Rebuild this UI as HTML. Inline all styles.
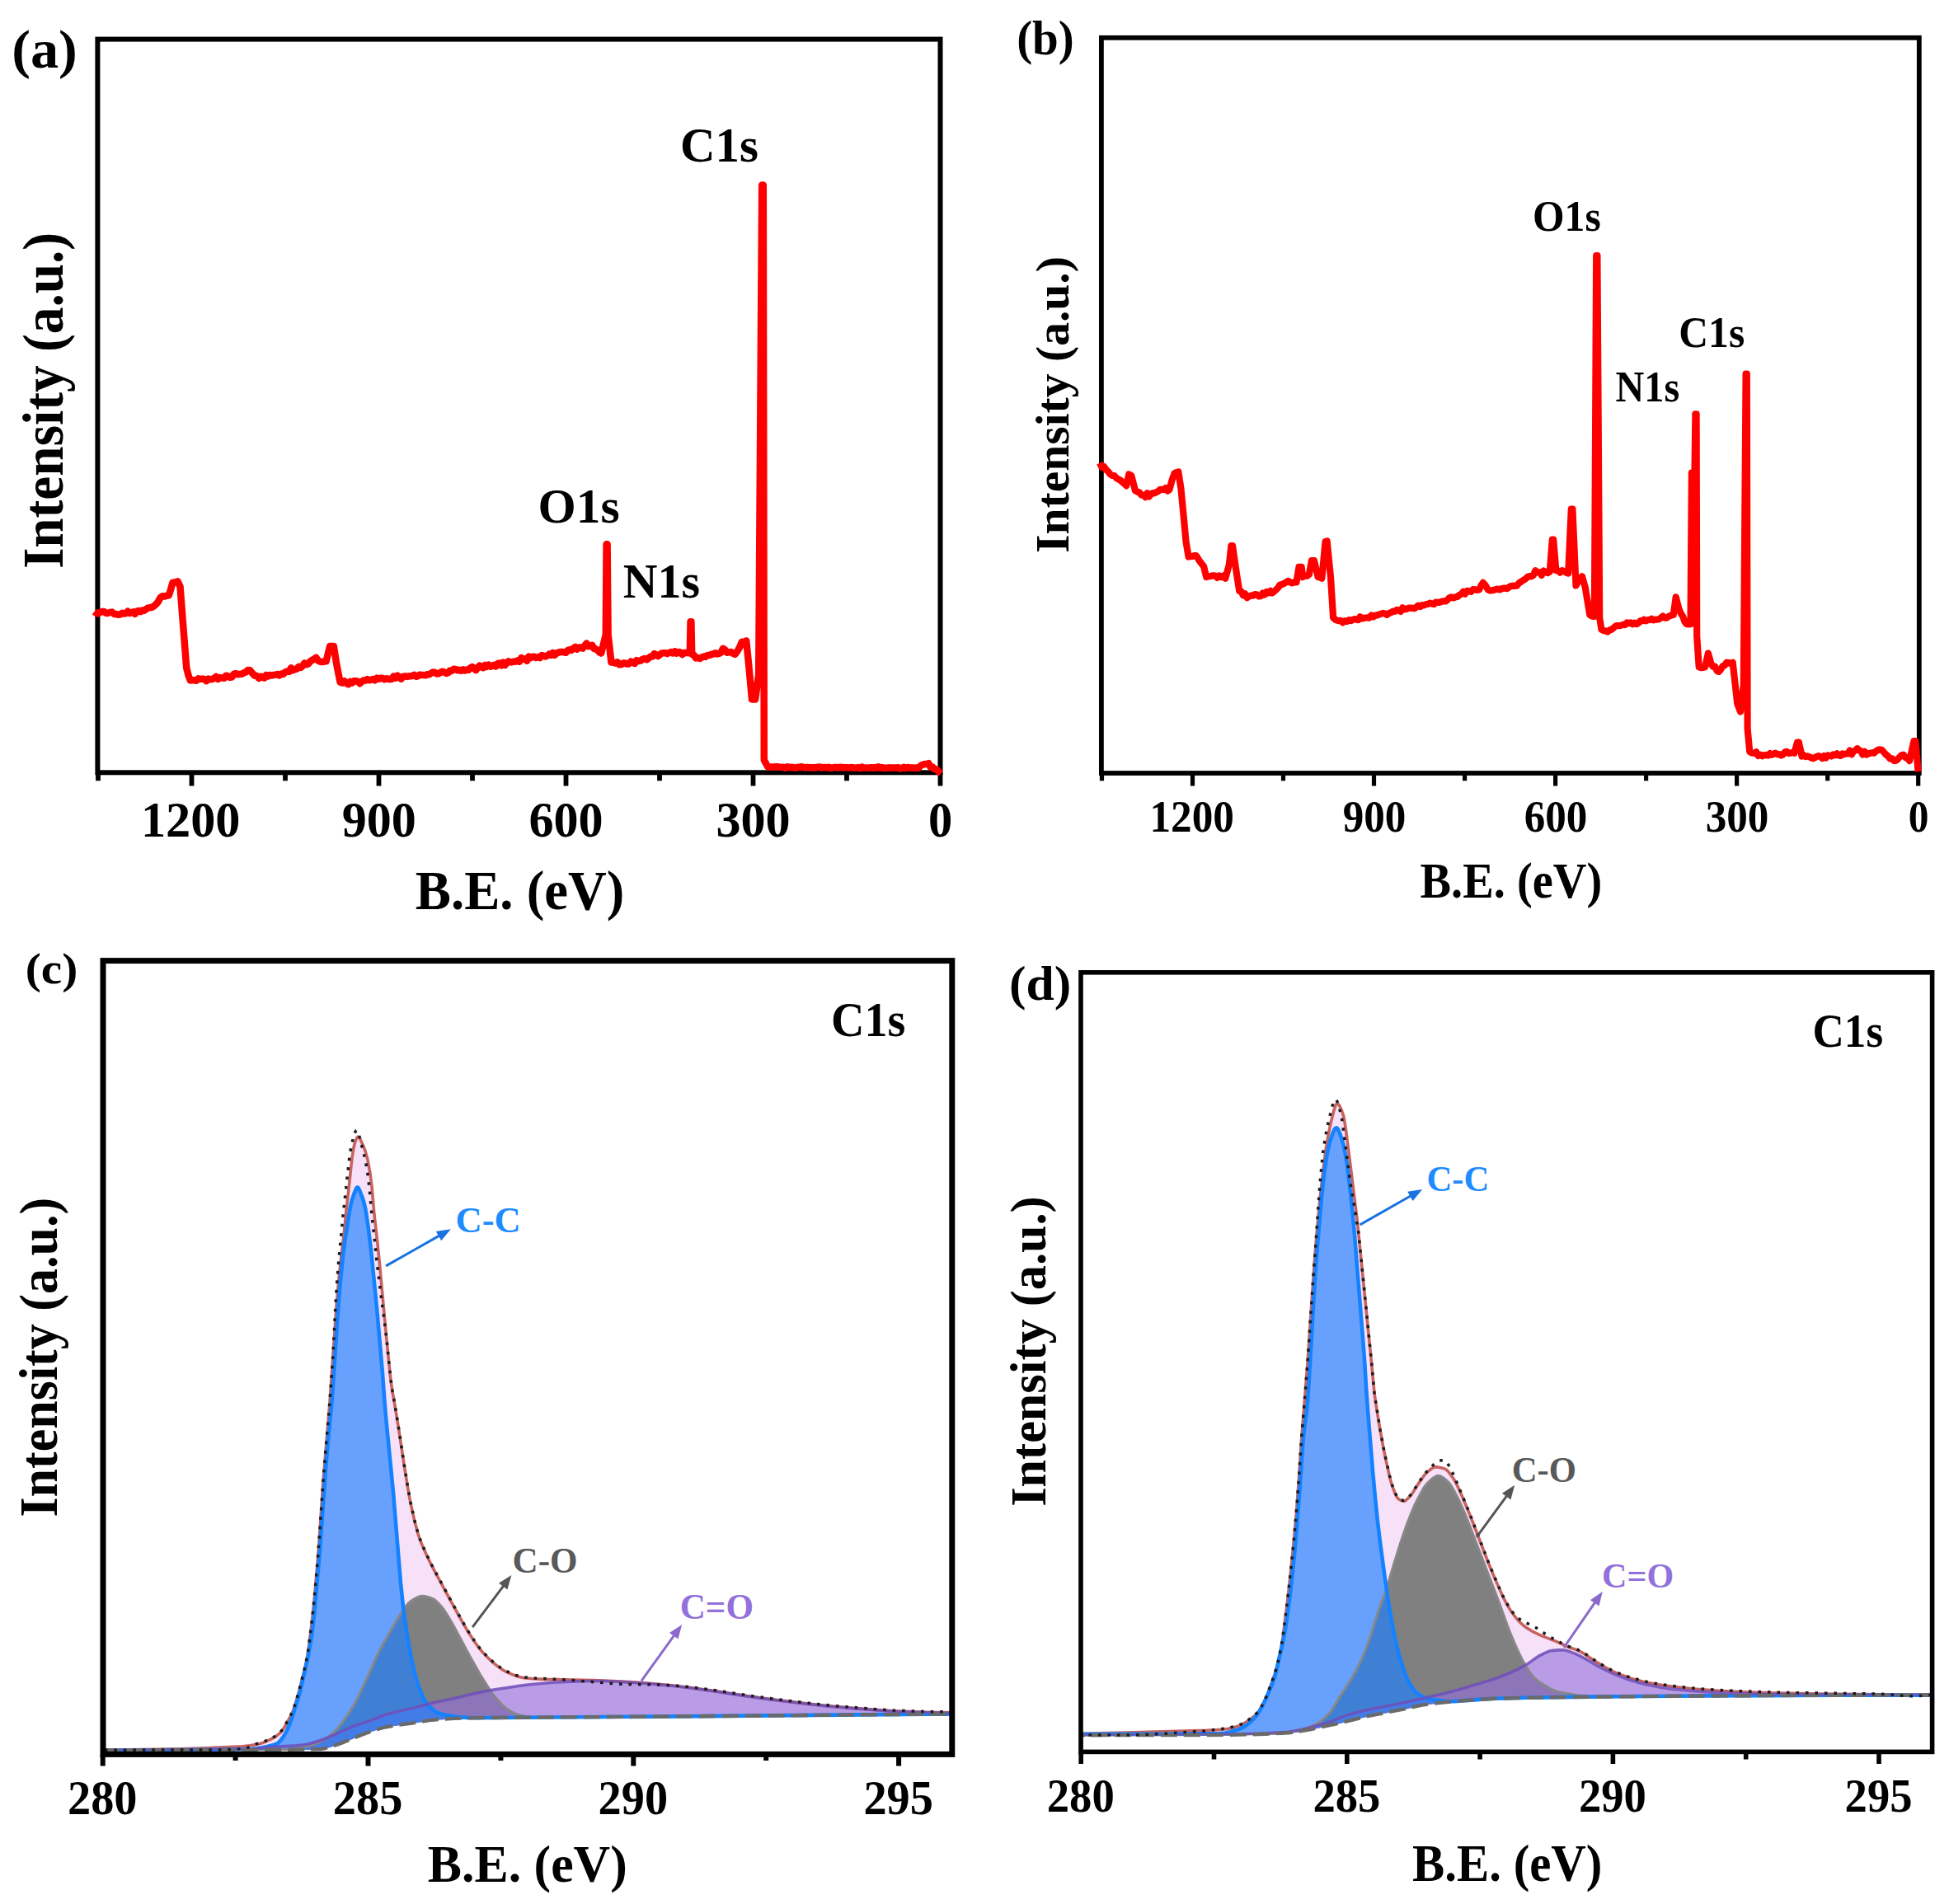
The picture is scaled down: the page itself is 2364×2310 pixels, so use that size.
<!DOCTYPE html>
<html lang="en"><head><meta charset="utf-8"><title>XPS spectra</title>
<style>html,body{margin:0;padding:0;background:#fff}svg{display:block}text{white-space:pre}</style>
</head><body>
<svg width="2364" height="2310" viewBox="0 0 2364 2310">
<rect width="2364" height="2310" fill="#fff"/>
<rect x="118.4" y="47.6" width="1022.1" height="889.6999999999999" fill="none" stroke="#000" stroke-width="6"/>
<path d="M232.5,937.3v16.1M459.5,937.3v16.1M686.5,937.3v16.1M913.5,937.3v16.1M1140.5,937.3v16.1" stroke="#000" stroke-width="5.8" fill="none"/>
<path d="M119.0,937.3v9.9M346.0,937.3v9.9M573.0,937.3v9.9M800.0,937.3v9.9M1027.0,937.3v9.9" stroke="#000" stroke-width="5.8" fill="none"/>
<text transform="translate(170.93,1015.25) scale(0.9842,1)" font-size="61.26" fill="#000" font-family="Liberation Serif, serif" font-weight="bold">1200</text>
<text transform="translate(414.71,1015.25) scale(0.9815,1)" font-size="61.26" fill="#000" font-family="Liberation Serif, serif" font-weight="bold">900</text>
<text transform="translate(641.48,1015.25) scale(0.9814,1)" font-size="61.26" fill="#000" font-family="Liberation Serif, serif" font-weight="bold">600</text>
<text transform="translate(868.41,1015.25) scale(0.9814,1)" font-size="61.26" fill="#000" font-family="Liberation Serif, serif" font-weight="bold">300</text>
<text transform="translate(1125.88,1015.25) scale(0.9545,1)" font-size="61.26" fill="#000" font-family="Liberation Serif, serif" font-weight="bold">0</text>
<text transform="translate(503.77,1103.05) scale(0.9610,1)" font-size="67.40" fill="#000" font-family="Liberation Serif, serif" font-weight="bold">B.E. (eV)</text>
<text transform="translate(76.05,690.12) rotate(-90) scale(0.9435,1)" font-size="69.24" fill="#000" font-family="Liberation Serif, serif" font-weight="bold">Intensity (a.u.)</text>
<text transform="translate(14.23,82.07) scale(1.0349,1)" font-size="66.01" fill="#000" font-family="Liberation Serif, serif" font-weight="bold">(a)</text>
<text transform="translate(825.06,195.85) scale(1.0090,1)" font-size="58.34" fill="#000" font-family="Liberation Serif, serif" font-weight="bold">C1s</text>
<text transform="translate(652.53,633.85) scale(1.0209,1)" font-size="58.19" fill="#000" font-family="Liberation Serif, serif" font-weight="bold">O1s</text>
<text transform="translate(755.85,725.45) scale(0.9709,1)" font-size="59.47" fill="#000" font-family="Liberation Serif, serif" font-weight="bold">N1s</text>
<path d="M114.5,742.0 L116.8,743.9 L119.2,744.4 L121.5,742.9 L123.8,742.1 L126.1,742.0 L128.5,743.7 L130.8,743.9 L133.4,742.9 L135.9,742.6 L138.5,744.9 L141.1,745.1 L143.6,745.8 L146.2,745.4 L148.4,743.8 L150.6,744.5 L152.8,744.0 L155.0,741.8 L157.2,743.9 L159.4,743.2 L161.6,742.4 L163.8,744.9 L166.0,741.8 L168.2,740.9 L170.4,742.2 L172.6,740.4 L174.8,740.9 L177.0,739.3 L179.5,737.6 L181.9,737.1 L184.4,736.9 L186.8,735.2 L189.3,733.1 L191.9,730.0 L194.4,725.2 L197.0,723.3 L199.6,723.6 L202.1,722.8 L204.7,722.4 L207.0,715.6 L209.3,707.0 L212.4,706.5 L215.5,705.4 L218.5,711.6 L221.6,751.6 L223.9,780.9 L226.2,810.1 L228.5,819.2 L230.8,825.5 L233.2,825.2 L235.7,825.3 L238.1,825.7 L240.5,823.3 L242.9,823.9 L245.4,823.6 L247.8,824.0 L250.2,826.3 L252.6,823.5 L255.0,824.3 L257.4,824.1 L259.7,822.8 L262.1,821.0 L264.5,824.0 L266.9,822.1 L269.3,822.4 L271.7,822.8 L274.1,819.7 L276.5,820.3 L278.9,821.9 L281.3,821.6 L283.7,817.7 L286.1,817.2 L288.5,818.3 L290.9,817.8 L293.4,817.8 L295.8,816.2 L298.3,815.4 L300.7,812.9 L303.2,813.2 L305.9,816.4 L308.6,819.5 L311.3,820.0 L314.0,823.0 L316.2,820.7 L318.4,821.1 L320.7,822.5 L322.9,818.9 L325.1,820.5 L327.3,818.9 L329.6,819.5 L331.8,818.9 L334.0,818.7 L336.4,818.1 L338.8,819.4 L341.2,817.4 L343.6,817.9 L345.9,815.5 L348.3,814.4 L350.7,814.9 L353.1,810.3 L355.5,813.2 L357.8,812.2 L360.1,811.5 L362.4,808.8 L364.8,809.9 L367.1,807.7 L369.4,804.4 L371.7,806.2 L374.0,805.5 L376.3,802.4 L378.6,801.0 L381.0,799.5 L383.3,797.8 L386.4,802.0 L389.4,803.0 L392.5,802.8 L395.6,802.4 L397.9,793.1 L400.2,783.9 L402.5,783.9 L404.8,783.9 L407.9,803.9 L410.2,815.7 L412.5,827.5 L415.1,828.5 L417.6,826.2 L420.2,829.0 L422.5,830.2 L424.8,827.0 L427.1,828.6 L429.4,826.3 L431.7,826.2 L434.0,826.6 L436.4,829.2 L438.7,827.3 L441.0,825.4 L443.3,825.5 L445.6,824.1 L447.9,825.2 L450.2,824.9 L452.4,824.0 L454.7,825.4 L457.0,822.6 L459.3,823.7 L461.5,822.8 L463.8,822.7 L466.1,824.3 L468.4,823.3 L470.6,823.7 L472.9,824.2 L475.2,823.9 L477.5,820.5 L479.7,822.7 L482.0,819.6 L484.3,821.5 L486.6,823.8 L488.8,820.9 L491.1,820.4 L493.4,820.9 L495.7,820.5 L497.9,820.3 L500.2,820.0 L502.5,818.8 L504.8,820.8 L507.0,820.2 L509.3,818.6 L511.6,818.9 L513.9,819.1 L516.2,819.3 L518.5,818.2 L520.7,818.3 L523.0,816.8 L525.3,815.5 L527.6,815.9 L529.9,817.5 L532.1,817.2 L534.4,815.8 L536.7,814.7 L539.0,815.5 L541.3,816.9 L543.5,816.2 L545.8,813.4 L548.1,813.9 L550.4,811.8 L552.7,811.9 L555.0,813.3 L557.2,812.8 L559.5,813.7 L561.8,812.2 L564.0,813.4 L566.2,812.6 L568.4,812.8 L570.6,810.2 L572.8,809.1 L575.0,810.8 L577.2,813.2 L579.4,809.9 L581.6,807.7 L583.8,809.1 L586.0,810.2 L588.2,806.8 L590.4,808.8 L592.6,806.7 L594.8,808.7 L597.0,807.8 L599.2,806.8 L601.4,808.6 L603.6,805.2 L605.8,804.6 L608.0,807.4 L610.2,803.6 L612.4,807.1 L614.6,804.0 L616.8,802.4 L619.0,803.4 L621.2,803.2 L623.4,802.7 L625.6,802.5 L627.9,801.5 L630.1,802.7 L632.4,798.0 L634.6,799.7 L636.9,799.6 L639.1,801.8 L641.4,796.5 L643.6,798.2 L645.9,796.7 L648.1,796.8 L650.3,798.0 L652.6,797.3 L654.8,798.1 L657.1,795.1 L659.3,795.7 L661.6,796.4 L663.8,795.6 L666.1,793.6 L668.3,794.9 L670.6,791.9 L672.8,794.9 L675.1,792.4 L677.3,791.7 L679.6,791.1 L681.8,791.0 L684.1,791.2 L686.4,791.8 L688.7,789.0 L691.0,788.2 L693.2,788.9 L695.5,786.5 L697.8,785.0 L700.0,787.7 L702.3,785.6 L704.6,785.6 L706.9,786.6 L709.1,783.4 L711.4,780.6 L713.7,784.2 L715.9,783.5 L718.2,782.9 L720.4,786.8 L722.6,787.4 L724.8,789.0 L727.0,791.2 L729.2,792.4 L732.0,781.2 L734.8,770.0 L735.6,660.2 L736.6,660.2 L737.6,770.0 L741.4,803.4 L743.9,803.5 L746.3,804.6 L748.8,803.3 L751.2,806.2 L753.7,806.1 L756.0,804.6 L758.3,804.6 L760.5,805.6 L762.8,805.4 L765.1,802.6 L767.4,803.4 L769.8,805.1 L772.2,801.1 L774.7,802.1 L777.1,801.5 L779.5,799.8 L781.9,799.0 L784.4,800.3 L786.8,798.4 L789.2,796.5 L791.4,796.6 L793.7,793.2 L795.9,794.1 L798.1,796.0 L800.4,794.3 L802.6,792.4 L804.9,792.3 L807.1,792.2 L809.3,792.9 L811.6,792.1 L813.8,791.1 L816.1,792.5 L818.4,790.3 L820.7,792.7 L823.0,791.0 L825.3,791.4 L827.6,794.0 L829.9,792.1 L832.2,792.0 L834.5,792.0 L836.8,792.4 L837.6,754.2 L838.4,754.2 L839.2,793.8 L841.6,794.7 L844.1,798.5 L846.5,797.9 L848.8,799.0 L851.2,797.6 L853.5,796.4 L855.9,796.9 L858.2,794.9 L860.6,795.0 L862.9,793.8 L865.2,793.5 L867.6,792.3 L869.9,793.5 L872.3,792.9 L874.6,791.5 L877.0,786.7 L879.3,788.3 L881.8,791.7 L884.2,791.4 L886.7,791.0 L889.1,792.7 L891.6,793.8 L894.3,790.2 L897.1,785.3 L899.8,778.8 L902.5,779.2 L905.2,777.4 L908.0,804.7 L912.0,848.4 L916.1,848.4 L920.2,818.4 L924.2,224.6 L925.8,224.6 L926.8,922.0 L929.0,926.3 L931.2,930.3 L933.6,930.4 L936.0,930.8 L938.4,930.4 L940.8,930.2 L943.1,930.3 L945.5,930.6 L947.9,930.9 L950.3,930.8 L952.5,931.8 L954.7,930.2 L956.9,931.0 L959.1,930.8 L961.4,931.0 L963.6,931.5 L965.8,931.4 L968.0,930.8 L970.2,930.7 L972.4,930.3 L974.6,930.9 L976.8,931.5 L979.1,930.8 L981.3,931.3 L983.5,931.3 L985.7,931.2 L987.9,931.5 L990.1,931.0 L992.3,930.7 L994.5,930.5 L996.8,931.5 L999.0,930.9 L1001.2,930.9 L1003.4,931.5 L1005.6,930.8 L1007.8,931.9 L1010.0,931.4 L1012.2,930.9 L1014.5,930.9 L1016.7,931.6 L1018.9,930.7 L1021.1,930.9 L1023.3,931.2 L1025.5,931.3 L1027.7,931.2 L1029.9,931.4 L1032.2,931.1 L1034.4,931.2 L1036.6,931.8 L1038.8,931.6 L1041.0,931.1 L1043.2,932.1 L1045.4,930.5 L1047.6,931.4 L1049.8,931.6 L1052.1,931.8 L1054.3,931.4 L1056.5,931.2 L1058.7,931.7 L1060.9,931.3 L1063.1,931.6 L1065.3,930.2 L1067.5,931.6 L1069.8,931.1 L1072.0,931.9 L1074.2,931.8 L1076.4,931.8 L1078.6,931.3 L1080.8,931.7 L1083.0,931.4 L1085.2,931.6 L1087.5,931.5 L1089.7,931.2 L1091.9,932.4 L1094.1,931.9 L1096.3,930.7 L1098.5,932.0 L1100.7,931.0 L1102.9,931.5 L1105.2,931.4 L1107.4,931.4 L1109.6,931.8 L1111.8,931.5 L1114.0,931.7 L1116.8,929.0 L1119.5,927.6 L1121.8,927.1 L1124.0,927.1 L1126.3,926.2 L1128.6,930.7 L1130.8,930.2 L1133.1,933.0 L1135.8,933.3 L1138.6,936.2 L1141.3,938.5" fill="none" stroke="#fe0000" stroke-width="8.5" stroke-linejoin="round" stroke-linecap="butt"/>
<rect x="1335.9" y="45.8" width="991.9000000000001" height="892.2" fill="none" stroke="#000" stroke-width="5.8"/>
<path d="M1446.5,938.0v15.4M1666.5,938.0v15.4M1886.6,938.0v15.4M2106.6,938.0v15.4M2326.7,938.0v15.4" stroke="#000" stroke-width="5.2" fill="none"/>
<path d="M1336.5,938.0v9.2M1556.5,938.0v9.2M1776.6,938.0v9.2M1996.6,938.0v9.2M2216.7,938.0v9.2" stroke="#000" stroke-width="5.2" fill="none"/>
<text transform="translate(1394.45,1008.65) scale(0.9519,1)" font-size="53.85" fill="#000" font-family="Liberation Serif, serif" font-weight="bold">1200</text>
<text transform="translate(1628.78,1008.65) scale(0.9488,1)" font-size="53.85" fill="#000" font-family="Liberation Serif, serif" font-weight="bold">900</text>
<text transform="translate(1848.64,1008.65) scale(0.9488,1)" font-size="53.85" fill="#000" font-family="Liberation Serif, serif" font-weight="bold">600</text>
<text transform="translate(2068.63,1008.65) scale(0.9487,1)" font-size="53.85" fill="#000" font-family="Liberation Serif, serif" font-weight="bold">300</text>
<text transform="translate(2314.64,1008.65) scale(0.9181,1)" font-size="53.85" fill="#000" font-family="Liberation Serif, serif" font-weight="bold">0</text>
<text transform="translate(1722.51,1089.05) scale(0.9200,1)" font-size="61.30" fill="#000" font-family="Liberation Serif, serif" font-weight="bold">B.E. (eV)</text>
<text transform="translate(1295.75,670.97) rotate(-90) scale(0.9913,1)" font-size="58.09" fill="#000" font-family="Liberation Serif, serif" font-weight="bold">Intensity (a.u.)</text>
<text transform="translate(1233.13,66.23) scale(0.9633,1)" font-size="59.17" fill="#000" font-family="Liberation Serif, serif" font-weight="bold">(b)</text>
<text transform="translate(1859.02,279.65) scale(0.9458,1)" font-size="52.45" fill="#000" font-family="Liberation Serif, serif" font-weight="bold">O1s</text>
<text transform="translate(2036.32,421.35) scale(0.9449,1)" font-size="52.45" fill="#000" font-family="Liberation Serif, serif" font-weight="bold">C1s</text>
<text transform="translate(1959.54,486.65) scale(0.9079,1)" font-size="53.05" fill="#000" font-family="Liberation Serif, serif" font-weight="bold">N1s</text>
<path d="M1333.9,561.6 L1336.5,567.0 L1339.0,565.9 L1341.6,569.8 L1344.1,572.0 L1346.7,575.4 L1349.2,577.0 L1351.6,577.1 L1354.1,580.0 L1356.5,581.4 L1358.9,582.7 L1361.3,584.8 L1363.8,586.9 L1366.2,589.3 L1369.3,575.4 L1372.3,577.0 L1374.7,586.2 L1377.0,595.4 L1379.5,596.6 L1381.9,597.4 L1384.4,600.5 L1386.8,600.9 L1389.3,603.1 L1391.5,598.2 L1393.7,602.5 L1396.0,599.6 L1398.2,598.1 L1400.4,598.3 L1402.6,597.2 L1404.9,596.0 L1407.1,593.9 L1409.3,593.9 L1411.6,594.1 L1413.9,592.1 L1416.2,595.6 L1418.5,593.9 L1421.6,582.4 L1424.7,573.9 L1427.0,572.9 L1429.3,572.4 L1432.4,592.4 L1435.5,624.7 L1438.5,657.0 L1441.6,675.5 L1443.9,675.1 L1446.2,675.0 L1448.6,674.1 L1450.9,674.0 L1454.0,679.2 L1457.0,683.2 L1460.1,687.3 L1463.2,700.1 L1465.9,699.4 L1468.6,699.0 L1471.3,698.3 L1474.0,698.6 L1476.5,700.9 L1478.9,698.5 L1481.4,700.2 L1483.8,698.5 L1486.3,701.7 L1488.6,693.4 L1490.9,684.7 L1493.4,662.0 L1495.0,662.0 L1497.5,679.5 L1500.1,697.0 L1503.2,717.0 L1505.5,717.5 L1507.8,722.3 L1510.2,720.4 L1512.6,725.2 L1515.0,723.3 L1517.4,722.5 L1519.8,722.8 L1522.2,721.0 L1524.6,721.6 L1527.0,723.5 L1529.4,723.2 L1531.7,719.5 L1534.0,721.4 L1536.3,718.0 L1538.6,719.3 L1540.9,716.9 L1543.2,719.4 L1545.5,717.5 L1547.8,715.5 L1550.3,712.9 L1552.7,709.4 L1555.2,708.9 L1557.6,707.9 L1560.1,706.3 L1562.6,704.9 L1565.1,706.5 L1567.5,707.3 L1570.0,706.1 L1572.5,706.3 L1575.5,687.8 L1578.6,687.8 L1580.2,700.1 L1582.8,698.4 L1585.3,698.8 L1587.9,697.0 L1590.9,680.1 L1594.0,680.1 L1596.3,690.1 L1598.6,700.1 L1600.9,700.4 L1603.3,701.7 L1607.6,657.0 L1609.6,656.5 L1611.8,678.3 L1614.0,700.1 L1617.1,749.4 L1620.2,752.1 L1623.3,753.1 L1626.0,752.8 L1628.7,755.4 L1631.3,753.3 L1634.0,754.0 L1636.2,752.1 L1638.5,753.1 L1640.7,751.8 L1643.0,751.0 L1645.2,751.6 L1647.5,752.2 L1649.7,748.3 L1652.0,750.4 L1654.2,749.9 L1656.5,749.5 L1658.7,749.4 L1661.1,749.6 L1663.4,746.5 L1665.8,748.3 L1668.2,746.6 L1670.5,746.4 L1672.9,745.4 L1675.3,744.7 L1677.7,743.9 L1680.0,744.4 L1682.4,745.9 L1684.8,744.0 L1687.1,743.2 L1689.5,741.7 L1691.9,741.7 L1694.2,739.9 L1696.6,740.7 L1698.9,741.9 L1701.3,737.3 L1703.7,739.3 L1706.0,739.0 L1708.4,737.6 L1710.8,737.6 L1713.1,737.8 L1715.5,738.3 L1717.8,736.6 L1720.2,734.6 L1722.6,736.1 L1724.9,734.1 L1727.3,734.3 L1729.7,733.1 L1732.0,732.9 L1734.4,731.6 L1736.8,732.5 L1739.2,733.1 L1741.5,730.7 L1743.9,730.8 L1746.3,730.9 L1748.6,729.8 L1751.0,729.4 L1753.4,729.5 L1755.7,727.7 L1758.1,725.1 L1760.5,724.3 L1762.8,725.5 L1765.2,724.4 L1767.6,724.0 L1770.0,722.0 L1772.3,721.0 L1774.7,717.9 L1777.1,720.6 L1779.4,716.8 L1781.8,717.0 L1784.3,717.9 L1786.7,715.0 L1789.2,715.3 L1791.6,715.9 L1794.1,715.5 L1796.4,710.6 L1798.8,706.9 L1801.8,710.3 L1804.9,715.5 L1807.2,716.5 L1809.5,716.3 L1811.8,715.9 L1814.2,715.1 L1816.5,714.5 L1818.8,715.5 L1821.1,714.3 L1823.4,713.7 L1825.7,713.7 L1828.0,714.1 L1830.3,712.4 L1832.6,711.1 L1834.9,710.7 L1837.2,710.9 L1839.8,710.6 L1842.3,707.5 L1844.9,705.8 L1847.5,704.0 L1850.0,702.6 L1852.6,700.1 L1855.1,699.1 L1857.5,699.3 L1860.0,697.7 L1862.4,692.2 L1864.9,694.5 L1867.4,694.2 L1869.9,697.8 L1872.3,692.5 L1874.8,694.1 L1877.3,695.1 L1879.8,693.7 L1882.8,654.5 L1884.2,654.5 L1887.3,691.9 L1889.8,692.5 L1892.3,694.7 L1894.8,692.2 L1897.2,692.9 L1899.7,694.8 L1902.2,695.6 L1905.8,617.5 L1907.4,617.5 L1911.5,710.5 L1914.0,705.9 L1916.5,701.7 L1919.0,699.3 L1922.7,712.4 L1925.5,729.2 L1928.3,746.0 L1931.1,747.6 L1933.9,747.8 L1936.2,310.0 L1937.4,310.0 L1940.2,749.7 L1942.5,763.9 L1945.0,765.1 L1947.4,765.6 L1949.9,766.5 L1952.3,764.5 L1954.7,763.8 L1957.1,761.9 L1959.5,759.6 L1961.9,759.0 L1964.2,759.2 L1966.5,758.6 L1968.8,757.8 L1971.1,758.1 L1973.4,755.5 L1975.7,756.2 L1977.9,755.4 L1980.2,757.2 L1982.5,755.7 L1984.8,757.2 L1987.1,756.1 L1989.4,753.4 L1991.7,753.4 L1994.0,751.8 L1996.3,753.4 L1998.6,752.2 L2000.9,752.1 L2003.2,750.7 L2005.5,752.4 L2007.7,751.6 L2010.0,751.6 L2012.3,751.2 L2014.6,749.5 L2016.9,747.6 L2019.2,749.7 L2021.5,749.7 L2024.2,747.7 L2027.0,746.6 L2029.7,746.0 L2032.7,724.3 L2036.4,738.5 L2038.8,744.3 L2041.1,747.7 L2043.5,754.3 L2045.8,757.1 L2048.2,757.3 L2050.5,757.1 L2051.9,573.6 L2055.5,573.6 L2056.4,502.4 L2057.6,502.4 L2058.2,772.1 L2060.7,809.3 L2063.2,810.1 L2065.6,809.9 L2068.1,809.3 L2071.9,792.6 L2075.6,805.6 L2077.9,808.9 L2080.2,808.7 L2082.6,813.9 L2084.9,814.9 L2087.2,812.2 L2089.6,808.1 L2091.9,807.2 L2094.2,803.7 L2096.7,804.1 L2099.2,805.2 L2101.7,803.7 L2104.5,828.9 L2107.3,854.1 L2111.0,863.4 L2114.8,831.7 L2117.6,453.6 L2118.8,453.6 L2119.6,883.9 L2122.2,911.9 L2124.8,913.5 L2127.4,913.8 L2130.1,912.2 L2132.7,916.9 L2135.3,915.6 L2137.6,917.3 L2139.9,916.3 L2142.1,915.9 L2144.4,916.7 L2146.7,914.1 L2149.0,915.8 L2151.2,914.9 L2153.5,913.6 L2155.8,915.1 L2158.1,915.0 L2160.4,916.5 L2162.6,915.5 L2164.9,912.4 L2167.2,911.8 L2169.5,914.0 L2171.7,913.7 L2174.0,912.8 L2176.3,913.8 L2180.0,900.5 L2181.8,900.5 L2185.6,917.5 L2187.8,916.1 L2190.1,918.0 L2192.3,917.3 L2194.6,918.2 L2196.8,919.4 L2199.0,920.2 L2201.3,919.2 L2203.5,917.8 L2205.7,917.1 L2208.0,918.0 L2210.2,920.0 L2212.4,917.1 L2214.7,919.5 L2216.9,916.3 L2219.2,916.7 L2221.4,917.5 L2223.6,915.5 L2225.9,916.3 L2228.1,914.3 L2230.3,916.5 L2232.6,916.9 L2234.8,914.5 L2237.0,915.2 L2239.3,914.3 L2241.5,914.5 L2243.7,910.6 L2246.0,915.3 L2248.2,911.5 L2250.5,910.5 L2252.7,908.2 L2254.9,910.1 L2257.2,911.4 L2259.4,915.5 L2261.7,911.9 L2263.9,915.6 L2266.2,914.5 L2268.6,913.7 L2270.9,913.2 L2273.2,913.6 L2275.6,911.2 L2277.9,909.8 L2280.3,909.3 L2282.6,910.0 L2285.1,912.7 L2287.6,915.5 L2290.1,917.5 L2292.5,920.6 L2295.0,920.3 L2297.5,923.1 L2299.7,922.8 L2302.0,920.9 L2304.2,918.4 L2306.5,916.2 L2308.7,915.6 L2311.2,919.2 L2313.6,919.8 L2316.1,923.1 L2318.8,911.0 L2321.5,899.0 L2323.3,899.0 L2326.6,936.1" fill="none" stroke="#fe0000" stroke-width="8.2" stroke-linejoin="round" stroke-linecap="butt"/>
<defs>
<clipPath id="boxc"><rect x="125" y="1165.6" width="1029.8" height="962.8000000000002"/></clipPath>
<clipPath id="abc"><path d="M125,1165.6L125,2124.1L326,2123.6L363,2123.2L389,2122.6L392,2122.2L396,2121.3L410,2116.9L415,2115L427,2110L444,2103.3L458,2098.6L467,2096.1L478,2094.1L500,2091.1L524,2087.3L531,2086.6L551,2085.5L569,2085L598,2084.6L837,2082.9L1155,2080L1155,1165.6Z"/></clipPath>
<path id="ce" d="M125,2130.4L125,2123L157,2122.9L189,2122.4L220,2121.7L251,2120.7L294,2118.8L303,2117.8L313,2116.1L316,2115.3L319,2114.3L329,2109.9L335,2106.4L339,2103.2L342,2100L344,2097.1L352,2083L355,2076.8L358,2068.2L362,2054.6L369,2027.1L371,2018.5L373,2007.9L374,2001.5L378,1970.6L381,1942.1L385,1896.9L388,1856.6L392,1797L400,1700.9L408,1584.9L411,1550.9L414,1522.4L417,1498.2L420,1468.2L423,1442.3L427,1404.8L429,1392.5L430,1388L432,1382.3L433,1380.3L434,1379.1L435,1379.2L436,1380.4L437,1382.2L441,1390.9L443,1396.4L445,1403.1L446,1407.3L449,1423.8L451,1439.6L454,1473.8L457,1500.1L460,1528.8L468,1615.1L472,1656.2L474,1674.6L476,1688.4L479,1705.4L484,1736.3L490,1776.3L495,1807.3L498,1823.7L503,1846.1L507,1860.8L509,1866.8L512,1874.6L518,1887.9L523,1898.2L527,1905.8L551,1950.1L561,1968.2L567,1978.5L574,1989.4L580,1998L586,2005.3L592,2011.5L597,2016.1L604,2021.8L609,2025.4L613,2027.8L620,2030.9L626,2033.3L631,2034.8L636,2035.7L647,2036.7L662,2037.4L719,2038.6L738,2039.2L764,2040.6L785,2042L815,2044.8L836,2047.3L865,2051.2L904,2057.2L935,2061.6L972,2066.1L1003,2069.5L1037,2072.5L1083,2075.9L1124,2077.3L1155,2077.8L1155,2130.4"/>
<path id="cg" d="M125,2130.4L125,2123.5L267,2123.2L348,2122.6L357,2121.7L371,2119.2L380,2116.5L389,2113L394,2110.2L399,2106.8L403,2103.3L407,2099.2L411,2094.9L416,2088.7L421,2081.8L425,2075.6L431,2065.3L438,2051.4L449,2027.3L456,2011.3L460,2003L464,1995.7L472,1982L481,1966L489,1953L491,1950.2L495,1945.6L497,1943.6L499,1942L504,1939L507,1937.5L510,1936.5L512,1936.3L515,1936.5L518,1937.1L522,1938.4L526,1940.1L528,1941.5L531,1944.3L536,1949.8L538,1952.4L542,1958.5L549,1970.2L570,2009.5L582,2030.8L587,2039L593,2048.4L597,2054.3L601,2059.5L609,2068.3L612,2071.1L615,2073.6L619,2076L624,2078.6L628,2080.2L632,2081.3L639,2082.7L645,2083.3L671,2083.6L906,2081.7L1155,2079.4L1155,2130.4"/>
<path id="cb" d="M125,2130.4L125,2123.5L189,2123.3L245,2122.9L300,2122L306,2121.7L311,2121.3L318,2120.3L324,2119.1L331,2117.3L336,2115.5L338,2114.1L341,2110.7L345,2105L348,2099.5L352,2090L354,2084.5L361,2062.5L364,2052L372,2017.4L374,2008L377,1990.8L379,1976.9L380,1968.8L382,1948.7L388,1880.6L395,1782.6L398,1746.7L402,1705.9L405,1665.1L409,1603.3L412,1565.3L415,1532.8L416,1523.2L418,1508.1L423,1474.9L425,1463.7L427,1455.4L429,1449.4L432,1442.1L433,1440.7L434,1440.5L435,1441.8L436,1443.9L440,1454.1L442,1461.1L443,1465.8L444,1471.1L446,1484.3L450,1516.3L457,1586.6L464,1666.3L466,1694.3L468,1718.7L477,1810.6L486,1920.7L489,1949.1L492,1971.7L496,1996.7L499,2012.3L503,2029.7L505,2037.3L507,2043.8L509,2049.2L512,2056.3L514,2060.5L516,2064.1L518,2067L520,2069.4L525,2074.4L528,2076.7L530,2077.8L535,2079.4L540,2080.6L547,2081.8L558,2083.2L566,2083.9L572,2084.2L822,2082.4L1155,2079.4L1155,2130.4"/>
<path id="cp" d="M125,2130.4L125,2123.5L217,2123.1L301,2122L312,2121.3L335,2119.1L359,2117.7L369,2116.7L373,2116L378,2114.7L388,2111.7L392,2110.3L409,2103.1L427,2094.9L433,2092.8L448,2088L462,2082.3L467,2080.5L474,2078.5L506,2070.9L529,2065L552,2060.3L570,2055.7L578,2053.9L589,2051.7L599,2050L632,2045L642,2043.8L670,2041.3L692,2040.1L716,2039.5L733,2039.5L754,2040.5L788,2042.7L817,2045.5L836,2047.7L865,2051.6L904,2057.6L935,2062L972,2066.5L1003,2069.9L1037,2072.9L1083,2076.3L1124,2077.7L1155,2078.2L1155,2130.4"/>
<path id="ck" d="M125,2130.4L125,2123.5L326,2123L363,2122.6L389,2122L392,2121.6L396,2120.7L410,2116.3L415,2114.4L427,2109.4L444,2102.7L458,2098L467,2095.5L478,2093.5L500,2090.5L524,2086.7L531,2086L551,2084.9L569,2084.4L598,2084L837,2082.3L1155,2079.4L1155,2130.4"/>
<path id="cd" d="M125,2130.4L125,2123.2L275,2122.9L291,2121.8L297,2121L301,2120L304,2119L311,2115.7L316,2114.5L321,2112.7L330,2108.6L334,2106.3L337,2104.1L340,2101.4L343,2097.9L352,2082.2L355,2076L358,2067.4L362,2053.8L369,2026.3L371,2017.7L373,2007.1L375,1993.6L379,1960.9L382,1930.7L385,1896.1L388,1855.8L392,1796.2L396,1746.9L399,1712.6L401,1686.6L404,1642.8L407,1581.8L409,1551.7L411,1527L416,1475.1L424,1402.5L426,1390.5L427,1386L430,1375.8L431,1373.1L432,1371.6L433,1371.4L434,1372.8L435,1375.5L436,1379L442,1402.9L444,1412.4L446,1424.3L448,1440.8L451,1474.9L454,1501.1L457,1530L462,1570.6L469,1624.6L472,1655.4L474,1673.8L476,1687.6L479,1704.6L484,1735.5L490,1775.5L495,1806.5L498,1822.9L503,1845.3L507,1860L509,1866L512,1873.8L518,1887.1L523,1897.4L527,1905L551,1949.3L561,1967.4L567,1977.7L574,1988.6L580,1997.2L586,2004.5L592,2010.7L597,2015.3L604,2021L609,2024.6L613,2027L620,2030.2L626,2032.5L631,2034L636,2034.9L650,2036.1L681,2037.7L697,2038.7L736,2042L748,2042.9L762,2043.4L798,2044L810,2044.5L822,2045.3L839,2047L862,2050L906,2056.7L944,2061.9L978,2066L1006,2069L1039,2071.8L1069,2074.1L1084,2075.1L1125,2076.6L1155,2077L1155,2130.4"/>
</defs>
<g clip-path="url(#abc)">
<use href="#ce" fill="#f6e1f8"/><use href="#cg" fill="#808080"/><use href="#cp" fill="#9370db" fill-opacity=".62"/><use href="#cb" fill="#1e80ff" fill-opacity=".66"/>
</g>
<g clip-path="url(#boxc)" fill="none" stroke-linejoin="round">
<use href="#ce" stroke="#c8625f" stroke-width="3.6"/>
<use href="#cg" stroke="#878787" stroke-width="3"/>
<use href="#cb" stroke="#1482ff" stroke-width="4.6"/>
</g>
<g clip-path="url(#abc)"><use href="#cp" fill="none" stroke="#6f4fb8" stroke-width="3.6" stroke-opacity=".85"/></g>
<g clip-path="url(#boxc)" fill="none" stroke-linejoin="round">
<use href="#ck" stroke="#6a6a6a" stroke-width="4.4" stroke-dasharray="20 8" stroke-dashoffset="-7"/>
<use href="#cd" stroke="#1c1c1c" stroke-width="3.5" stroke-dasharray="3.6 7.9" stroke-dashoffset="-9"/>
</g>
<rect x="125" y="1165.6" width="1029.8" height="962.8000000000002" fill="none" stroke="#000" stroke-width="7"/>
<path d="M124.7,2128.4v14.2M446.5,2128.4v14.2M768.3,2128.4v14.2M1090.1,2128.4v14.2" stroke="#000" stroke-width="6" fill="none"/>
<path d="M285.6,2128.4v7.5M607.4,2128.4v7.5M929.2,2128.4v7.5" stroke="#000" stroke-width="6" fill="none"/>
<text transform="translate(82.01,2201.45) scale(0.9615,1)" font-size="58.59" fill="#000" font-family="Liberation Serif, serif" font-weight="bold">280</text>
<text transform="translate(403.81,2201.45) scale(0.9615,1)" font-size="58.59" fill="#000" font-family="Liberation Serif, serif" font-weight="bold">285</text>
<text transform="translate(725.61,2201.45) scale(0.9615,1)" font-size="58.59" fill="#000" font-family="Liberation Serif, serif" font-weight="bold">290</text>
<text transform="translate(1047.41,2201.45) scale(0.9615,1)" font-size="58.59" fill="#000" font-family="Liberation Serif, serif" font-weight="bold">295</text>
<text transform="translate(518.82,2282.65) scale(0.9625,1)" font-size="64.20" fill="#000" font-family="Liberation Serif, serif" font-weight="bold">B.E. (eV)</text>
<text transform="translate(68.65,1840.52) rotate(-90) scale(0.9393,1)" font-size="66.03" fill="#000" font-family="Liberation Serif, serif" font-weight="bold">Intensity (a.u.)</text>
<text transform="translate(30.72,1192.87) scale(1.0658,1)" font-size="53.77" fill="#000" font-family="Liberation Serif, serif" font-weight="bold">(c)</text>
<text transform="translate(1008.00,1256.85) scale(0.9487,1)" font-size="59.09" fill="#000" font-family="Liberation Serif, serif" font-weight="bold">C1s</text>
<text transform="translate(552.47,1494.85) scale(0.9900,1)" font-size="45.06" fill="#1e8cff" font-family="Liberation Serif, serif" font-weight="bold">C-C</text>
<text transform="translate(621.54,1907.85) scale(0.9568,1)" font-size="45.06" fill="#595959" font-family="Liberation Serif, serif" font-weight="bold">C-O</text>
<text transform="translate(824.64,1963.75) scale(0.9684,1)" font-size="44.60" fill="#9370db" font-family="Liberation Serif, serif" font-weight="bold">C=O</text>
<path d="M468.1,1535.9L533.8,1498.6" stroke="#1a72e0" stroke-width="3" fill="none"/>
<path d="M546.8,1491.2L535.2,1505.2L528.8,1493.9Z" fill="#1a72e0"/>
<path d="M573.1,1974.2L611.4,1923.1" stroke="#555" stroke-width="3" fill="none"/>
<path d="M620.4,1911.1L615.4,1928.6L605.0,1920.8Z" fill="#555"/>
<path d="M778.0,2039.3L818.4,1983.2" stroke="#8b6bc9" stroke-width="3" fill="none"/>
<path d="M827.2,1971.0L822.5,1988.6L812.0,1981.0Z" fill="#8b6bc9"/>
<defs>
<clipPath id="boxd"><rect x="1311" y="1179.8" width="1032.6" height="945.6000000000001"/></clipPath>
<clipPath id="abd"><path d="M1311,1179.8L1311,2105.8L1493,2105.5L1528,2104.6L1563,2102.9L1575,2101.4L1590,2098.6L1620,2092.2L1650,2084.8L1661,2082.3L1701,2074.4L1719,2070.4L1727,2068.8L1740,2067.1L1757,2065.3L1789,2062.8L1808,2061.6L1838,2060.7L1880,2059.9L2028,2058.3L2200,2057.4L2344,2057.1L2344,1179.8Z"/></clipPath>
<path id="de" d="M1311,2127.4L1311,2103.4L1365,2102.1L1464,2099.2L1483,2098.2L1490,2097.2L1499,2094.9L1503,2093.6L1506,2092.4L1512,2089L1520,2083.2L1524,2079.6L1526,2077.4L1528,2074.7L1532,2067.7L1536,2059.1L1540,2048.6L1546,2031.6L1549,2021.4L1551,2013.2L1554,1998.4L1556,1986.5L1561,1947.1L1564,1921.1L1568,1883.7L1572,1839.9L1575,1800.4L1579,1740.3L1583,1692L1586,1653.1L1594,1534.8L1597,1497.1L1601,1454.4L1606,1410.3L1608,1395.8L1611,1377.6L1614,1362.9L1618,1346.9L1620,1341L1621,1339.3L1622,1338.9L1623,1339.4L1624,1340.4L1625,1342L1627,1346.4L1629,1351.9L1630,1355.5L1632,1367.5L1637,1405.9L1646,1478.6L1663,1648L1667,1690L1669,1704L1673,1729.1L1678,1756.8L1681,1771.3L1685,1789.2L1687,1797.2L1689,1803.7L1692,1811.5L1694,1815.7L1695,1817.3L1696,1818.4L1697,1819.1L1700,1820.6L1702,1821.2L1703,1821.2L1704,1820.9L1705,1820.4L1707,1818.7L1712,1813.3L1714,1810.3L1720,1800.6L1728,1789.3L1731,1786.2L1736,1782.1L1738,1780.8L1740,1780L1742,1779.8L1744,1779.9L1748,1780.7L1752,1781.9L1754,1782.9L1756,1784.7L1760,1789.7L1763,1794L1765,1797.3L1768,1803.3L1775,1818.8L1785,1843.2L1806,1897.8L1813,1914.6L1823,1937.4L1828,1946.9L1833,1955.1L1838,1961.8L1841,1965.4L1844,1968.6L1848,1972.2L1852,1975.1L1858,1978.8L1864,1981.9L1870,1984.6L1888,1991.7L1900,1997.2L1912,2001.6L1917,2003.8L1922,2006.7L1933,2014.3L1942,2019.9L1950,2024.6L1956,2027.7L1967,2032.3L1979,2036.4L1994,2040.5L2007,2043.1L2018,2044.8L2030,2046.4L2043,2047.9L2057,2049.2L2085,2051.3L2122,2053L2156,2054L2208,2055L2285,2055.8L2344,2056.2L2344,2127.4"/>
<path id="dg" d="M1311,2127.4L1311,2105.2L1392,2105.1L1461,2104.6L1541,2103.5L1554,2102.9L1561,2102L1572,2100.1L1577,2099L1582,2097.6L1588,2095.5L1594,2093L1598,2090.8L1602,2088.1L1606,2084.9L1610,2081.3L1612,2079.2L1615,2075.1L1625,2058.6L1635,2043.3L1639,2036.9L1645,2026.2L1650,2016.4L1653,2009.9L1656,2002.5L1663,1983L1672,1954L1680,1932.8L1682,1927L1691,1896.4L1699,1870.9L1706,1850.5L1712,1835.1L1716,1825.9L1720,1817.7L1726,1806.7L1729,1802.2L1731,1799.8L1733,1797.8L1738,1793.2L1741,1791.3L1743,1790.5L1744,1790.3L1745,1790.3L1747,1790.7L1750,1792.3L1754,1795.5L1757,1798.3L1758,1799.4L1760,1802.3L1763,1807.4L1768,1816.8L1771,1823L1777,1836.9L1781,1846.9L1818,1943.3L1828,1971.2L1832,1981.6L1839,1998.2L1844,2008.8L1848,2016.6L1851,2021.8L1856,2029.6L1859,2033.5L1862,2036.7L1866,2039.9L1870,2042.6L1879,2048L1884,2050.5L1889,2052.2L1895,2053.6L1906,2055.6L1914,2056.8L1924,2057.6L1945,2058.4L2127,2057.1L2248,2056.6L2344,2056.5L2344,2127.4"/>
<path id="db" d="M1311,2127.4L1311,2104L1404,2103.8L1480,2103L1486,2102.5L1492,2101.3L1501,2098.5L1506,2096.6L1508,2095.6L1511,2093.7L1514,2091.5L1518,2087.9L1521,2085L1523,2082.6L1526,2078.4L1531,2070.2L1534,2064.1L1542,2045.9L1545,2038L1547,2031.6L1555,1997.1L1557,1987.6L1559,1976.4L1561,1963.5L1563,1949L1566,1924.5L1570,1886.4L1573,1852.6L1577,1799L1580,1755L1581,1743L1582,1733.6L1585,1710.9L1586,1701.1L1588,1670.9L1595,1550.5L1598,1510.3L1603,1452.8L1605,1433.8L1607,1417.3L1609,1404.4L1611,1393.6L1613,1385.3L1617,1373.6L1619,1369.6L1620,1368.6L1621,1368.3L1622,1368.9L1623,1370.2L1625,1374.6L1628,1383.4L1630,1390.8L1632,1401L1634,1413.1L1638,1446.5L1641,1476.1L1643,1498.4L1653,1623.1L1655,1649.5L1657,1682.3L1659,1710.7L1665,1784.4L1668,1816.9L1671,1846.3L1674,1871.1L1680,1916L1685,1949.6L1688,1967L1692,1987.2L1697,2008L1701,2021.5L1704,2030L1706,2035L1709,2041.1L1712,2046.2L1715,2050.3L1717,2052.4L1721,2055.8L1724,2057.8L1727,2059.2L1731,2060.5L1737,2061.8L1746,2063.1L1754,2064L1760,2064.2L1764,2064.1L1798,2061.6L1813,2060.8L1851,2059.8L1904,2058.9L1989,2058L2073,2057.4L2230,2056.7L2344,2056.5L2344,2127.4"/>
<path id="dp" d="M1311,2127.4L1311,2105.2L1412,2104.9L1508,2103.9L1528,2103.2L1549,2102.1L1562,2101.2L1572,2099.8L1580,2098.1L1588,2096.2L1611,2089.7L1617,2087.6L1633,2081.2L1644,2078L1654,2075.6L1669,2072.3L1703,2065.8L1755,2053.7L1771,2049.5L1809,2038L1817,2035.3L1825,2032.3L1833,2028.9L1841,2025.1L1847,2022L1853,2018.6L1864,2010.7L1867,2008.8L1875,2004.9L1879,2003.3L1882,2002.6L1890,2001.9L1896,2001.8L1899,2002.2L1903,2003.4L1912,2006.9L1917,2009.3L1925,2013.6L1940,2022.4L1947,2026L1954,2029.3L1961,2032.4L1974,2037.2L1986,2041L1996,2043.5L2013,2046.9L2028,2049.1L2050,2051.3L2074,2053L2103,2054.4L2133,2055.3L2201,2056L2308,2056.5L2344,2056.5L2344,2127.4"/>
<path id="dk" d="M1311,2127.4L1311,2105.2L1493,2104.9L1528,2104L1563,2102.3L1575,2100.8L1590,2098L1620,2091.6L1650,2084.2L1661,2081.7L1701,2073.8L1719,2069.8L1727,2068.2L1740,2066.5L1757,2064.7L1789,2062.2L1808,2061L1838,2060.1L1880,2059.3L2028,2057.7L2200,2056.8L2344,2056.5L2344,2127.4"/>
<path id="dd" d="M1311,2127.4L1311,2104.9L1378,2104.9L1396,2104.1L1417,2103L1460,2100.2L1470,2099.1L1479,2097.7L1485,2097.2L1491,2096.2L1499,2094.1L1503,2092.8L1506,2091.6L1509,2090L1513,2087.5L1518,2084L1521,2081.6L1524,2078.8L1526,2076.6L1529,2072.3L1531,2068.8L1534,2062.9L1537,2055.8L1544,2036.6L1547,2027.6L1550,2016.7L1552,2007.8L1554,1997.6L1556,1985.7L1560,1954.6L1563,1929.2L1569,1872.8L1573,1826.5L1575,1799.6L1579,1739.5L1583,1691.2L1586,1652.3L1593,1547.8L1596,1507.9L1599,1462.1L1601,1436.6L1603,1414.2L1605,1395.1L1608,1376.8L1610,1366.5L1615,1345.6L1617,1338.3L1618,1335.7L1619,1334.2L1620,1333.9L1621,1334.6L1622,1336.5L1623,1339.4L1626,1350.1L1627,1354.2L1628,1359.8L1638,1436.4L1643,1465L1648,1497.2L1663,1647.2L1666,1679.6L1667,1689.2L1668,1696.7L1674,1734.2L1678,1756L1681,1770.5L1685,1788.4L1687,1796.4L1689,1802.9L1692,1810.7L1694,1814.9L1695,1816.5L1696,1817.6L1697,1818.3L1700,1819.8L1702,1820.4L1703,1820.4L1704,1820.1L1706,1818.8L1711,1813.7L1714,1809.5L1720,1799.8L1727,1789.7L1730,1786L1739,1776.8L1741,1775.1L1744,1773.4L1746,1772.4L1748,1771.8L1750,1771.7L1751,1771.8L1753,1772.6L1754,1773.4L1756,1775.9L1758,1779.2L1763,1789.3L1766,1796.1L1777,1822.5L1784,1839.9L1806,1897L1812,1911.5L1821,1932.2L1825,1940.5L1830,1949.2L1834,1955L1836,1957.5L1839,1960.7L1843,1964.3L1846,1966.4L1849,1968L1858,1972.1L1862,1974.2L1866,1976.7L1877,1984.1L1882,1987.1L1894,1993.5L1899,1995.9L1903,1997.6L1913,2001.2L1918,2003.5L1923,2006.6L1935,2014.8L1947,2022.1L1954,2025.9L1965,2030.7L1976,2034.6L1990,2038.7L2002,2041.4L2012,2043.1L2023,2044.7L2036,2046.3L2050,2047.8L2080,2050.2L2111,2051.7L2138,2052.7L2170,2053.5L2278,2055.1L2290,2055.7L2310,2057.4L2318,2057.8L2328,2057.6L2344,2056.4L2344,2127.4"/>
</defs>
<g clip-path="url(#abd)">
<use href="#de" fill="#f6e1f8"/><use href="#dg" fill="#808080"/><use href="#dp" fill="#9370db" fill-opacity=".62"/><use href="#db" fill="#1e80ff" fill-opacity=".66"/>
</g>
<g clip-path="url(#boxd)" fill="none" stroke-linejoin="round">
<use href="#de" stroke="#c8625f" stroke-width="3.6"/>
<use href="#dg" stroke="#878787" stroke-width="3"/>
<use href="#db" stroke="#1482ff" stroke-width="4.6"/>
</g>
<g clip-path="url(#abd)"><use href="#dp" fill="none" stroke="#6f4fb8" stroke-width="3.6" stroke-opacity=".85"/></g>
<g clip-path="url(#boxd)" fill="none" stroke-linejoin="round">
<use href="#dk" stroke="#6a6a6a" stroke-width="4.4" stroke-dasharray="20 8" stroke-dashoffset="-7"/>
<use href="#dd" stroke="#1c1c1c" stroke-width="3.5" stroke-dasharray="3.6 7.9" stroke-dashoffset="-9"/>
</g>
<rect x="1311" y="1179.8" width="1032.6" height="945.6000000000001" fill="none" stroke="#000" stroke-width="5.6"/>
<path d="M1311.2,2125.4v14.6M1633.8,2125.4v14.6M1956.4,2125.4v14.6M2279.0,2125.4v14.6" stroke="#000" stroke-width="5.6" fill="none"/>
<path d="M1472.5,2125.4v9.0M1795.1,2125.4v9.0M2117.7,2125.4v9.0" stroke="#000" stroke-width="5.6" fill="none"/>
<text transform="translate(1269.78,2197.85) scale(0.9619,1)" font-size="56.81" fill="#000" font-family="Liberation Serif, serif" font-weight="bold">280</text>
<text transform="translate(1592.38,2197.85) scale(0.9619,1)" font-size="56.81" fill="#000" font-family="Liberation Serif, serif" font-weight="bold">285</text>
<text transform="translate(1914.98,2197.85) scale(0.9619,1)" font-size="56.81" fill="#000" font-family="Liberation Serif, serif" font-weight="bold">290</text>
<text transform="translate(2237.58,2197.85) scale(0.9619,1)" font-size="56.81" fill="#000" font-family="Liberation Serif, serif" font-weight="bold">295</text>
<text transform="translate(1713.07,2282.05) scale(0.9410,1)" font-size="62.52" fill="#000" font-family="Liberation Serif, serif" font-weight="bold">B.E. (eV)</text>
<text transform="translate(1267.85,1827.86) rotate(-90) scale(0.9850,1)" font-size="61.15" fill="#000" font-family="Liberation Serif, serif" font-weight="bold">Intensity (a.u.)</text>
<text transform="translate(1224.03,1213.01) scale(1.0297,1)" font-size="59.72" fill="#000" font-family="Liberation Serif, serif" font-weight="bold">(d)</text>
<text transform="translate(2198.55,1269.85) scale(0.9314,1)" font-size="56.98" fill="#000" font-family="Liberation Serif, serif" font-weight="bold">C1s</text>
<text transform="translate(1730.46,1445.45) scale(0.9483,1)" font-size="45.06" fill="#1e8cff" font-family="Liberation Serif, serif" font-weight="bold">C-C</text>
<text transform="translate(1833.66,1797.85) scale(0.9720,1)" font-size="44.00" fill="#595959" font-family="Liberation Serif, serif" font-weight="bold">C-O</text>
<text transform="translate(1943.10,1926.35) scale(0.9856,1)" font-size="42.64" fill="#9370db" font-family="Liberation Serif, serif" font-weight="bold">C=O</text>
<path d="M1649.6,1485.9L1712.2,1450.3" stroke="#1a72e0" stroke-width="3" fill="none"/>
<path d="M1725.2,1442.9L1713.6,1457.0L1707.2,1445.7Z" fill="#1a72e0"/>
<path d="M1791.0,1864.9L1828.3,1813.9" stroke="#555" stroke-width="3" fill="none"/>
<path d="M1837.2,1801.8L1832.4,1819.4L1821.9,1811.7Z" fill="#555"/>
<path d="M1896.9,1998.9L1935.3,1943.2" stroke="#8b6bc9" stroke-width="3" fill="none"/>
<path d="M1943.8,1930.9L1939.5,1948.6L1928.8,1941.2Z" fill="#8b6bc9"/>
</svg>
</body></html>
